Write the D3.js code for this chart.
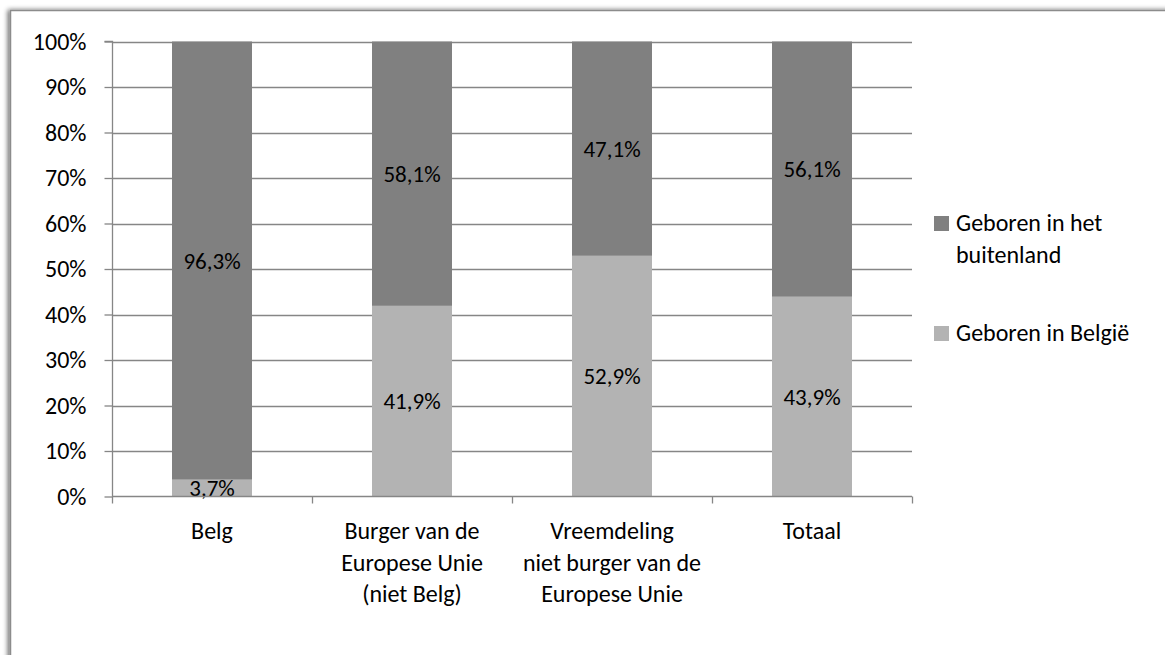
<!DOCTYPE html>
<html>
<head>
<meta charset="utf-8">
<script src="https://cdn.jsdelivr.net/npm/d3@7"></script>
<style>
  html, body { margin: 0; padding: 0; background: #fff; }
  svg { display: block; }
  text { font-family: Carlito, Calibri, Lato, "Open Sans", sans-serif; fill: #000; }
</style>
</head>
<body>
<svg id="chart" width="1165" height="655"></svg>
<script>
const categories = [
  ["Belg"],
  ["Burger van de", "Europese Unie", "(niet Belg)"],
  ["Vreemdeling", "niet burger van de", "Europese Unie"],
  ["Totaal"]
];
const seriesNames = ["Geboren in België", "Geboren in het buitenland"];
const bornBelgium = [3.7, 41.9, 52.9, 43.9];
const bornAbroad = [96.3, 58.1, 47.1, 56.1];
const yTicks = [0, 10, 20, 30, 40, 50, 60, 70, 80, 90, 100];
const colors = ["#b3b3b3", "#808080"];

const svg = d3.select("#chart");
const W = 1165, H = 655;
const plot = { left: 112, right: 912, top: 41.5, bottom: 496.5 };
const fontSize = 24;

// frame with shadow
const defs = svg.append("defs");
const f = defs.append("filter").attr("id", "sh").attr("x", "-5%").attr("y", "-5%").attr("width", "110%").attr("height", "110%");
f.append("feGaussianBlur").attr("in", "SourceAlpha").attr("stdDeviation", 2.5);
f.append("feOffset").attr("dx", -2).attr("dy", 0).attr("result", "b");
f.append("feComponentTransfer").append("feFuncA").attr("type", "linear").attr("slope", 0.6);
const fm = f.append("feMerge");
fm.append("feMergeNode");
fm.append("feMergeNode").attr("in", "SourceGraphic");

svg.append("rect")
  .attr("x", 10.5).attr("y", 10.5).attr("width", W + 20).attr("height", H + 20)
  .attr("fill", "#fff").attr("stroke", "#8c8c8c").attr("stroke-width", 1.5)
  .attr("filter", "url(#sh)");

const x = d3.scaleBand().domain(d3.range(categories.length))
  .range([plot.left, plot.right]).paddingInner(0.6).paddingOuter(0.3);
const y = d3.scaleLinear().domain([0, 100]).range([plot.bottom, plot.top]);

// gridlines
svg.append("g").selectAll("line").data(yTicks.filter(d => d > 0)).join("line")
  .attr("x1", plot.left).attr("x2", plot.right)
  .attr("y1", d => Math.round(y(d)) + 0.5).attr("y2", d => Math.round(y(d)) + 0.5)
  .attr("stroke", "#868686").attr("stroke-width", 1.3);

// stacked bars
const stackData = categories.map((c, i) => ({ i, be: bornBelgium[i], ab: bornAbroad[i] }));
const stack = d3.stack().keys(["be", "ab"])(stackData);
const g = svg.append("g");
stack.forEach((layer, li) => {
  g.append("g").selectAll("rect").data(layer).join("rect")
    .attr("x", d => x(d.data.i))
    .attr("width", x.bandwidth())
    .attr("y", d => y(d[1]))
    .attr("height", d => y(d[0]) - y(d[1]))
    .attr("fill", colors[li]);
  g.append("g").selectAll("text").data(layer).join("text")
    .attr("x", d => x(d.data.i) + x.bandwidth() / 2)
    .attr("y", d => (y(d[0]) + y(d[1])) / 2)
    .attr("dy", "0.35em")
    .attr("text-anchor", "middle")
    .attr("font-size", fontSize - 1)
    .text(d => d3.format(".1f")(d[1] - d[0]).replace(".", ",") + "%");
});

// y axis
const yAxis = d3.axisLeft(y).tickValues(yTicks).tickSize(8).tickPadding(18)
  .tickFormat(d => d + "%");
const ya = svg.append("g").attr("transform", `translate(${plot.left + 0.5},0)`).call(yAxis);
ya.attr("font-family", null);
ya.select(".domain").attr("stroke", "#868686").attr("stroke-width", 1.3).attr("d", `M-8,${plot.top}H0V${plot.bottom}`);
ya.selectAll(".tick line").attr("stroke", "#868686").attr("stroke-width", 1.3);
ya.selectAll(".tick text").attr("font-size", fontSize).attr("fill", "#000");

// x axis
const xb = d3.scaleLinear().domain([0, categories.length]).range([plot.left, plot.right]);
const xa = svg.append("g").attr("transform", `translate(0,${plot.bottom})`)
  .call(d3.axisBottom(xb).ticks(categories.length).tickSize(7).tickFormat(""));
xa.select(".domain").attr("stroke", "#868686").attr("stroke-width", 1.3).attr("d", `M${plot.left},0H${plot.right}`);
xa.selectAll(".tick line").attr("stroke", "#868686").attr("stroke-width", 1.3);

// category labels
const cl = svg.append("g");
categories.forEach((lines, i) => {
  const t = cl.append("text")
    .attr("x", x(i) + x.bandwidth() / 2)
    .attr("y", 539)
    .attr("text-anchor", "middle")
    .attr("font-size", fontSize);
  lines.forEach((ln, k) => {
    t.append("tspan").attr("x", x(i) + x.bandwidth() / 2).attr("y", 539 + k * 31.5).text(ln);
  });
});

// legend
const legend = [
  { name: ["Geboren in het", "buitenland"], color: colors[1], y: 231 },
  { name: ["Geboren in België"], color: colors[0], y: 341 }
];
const lg = svg.append("g");
legend.forEach(it => {
  lg.append("rect").attr("x", 934).attr("y", it.y - 15).attr("width", 15).attr("height", 15).attr("fill", it.color);
  const t = lg.append("text").attr("font-size", fontSize);
  it.name.forEach((ln, k) => t.append("tspan").attr("x", 956).attr("y", it.y + k * 32).text(ln));
});
</script>
</body>
</html>
